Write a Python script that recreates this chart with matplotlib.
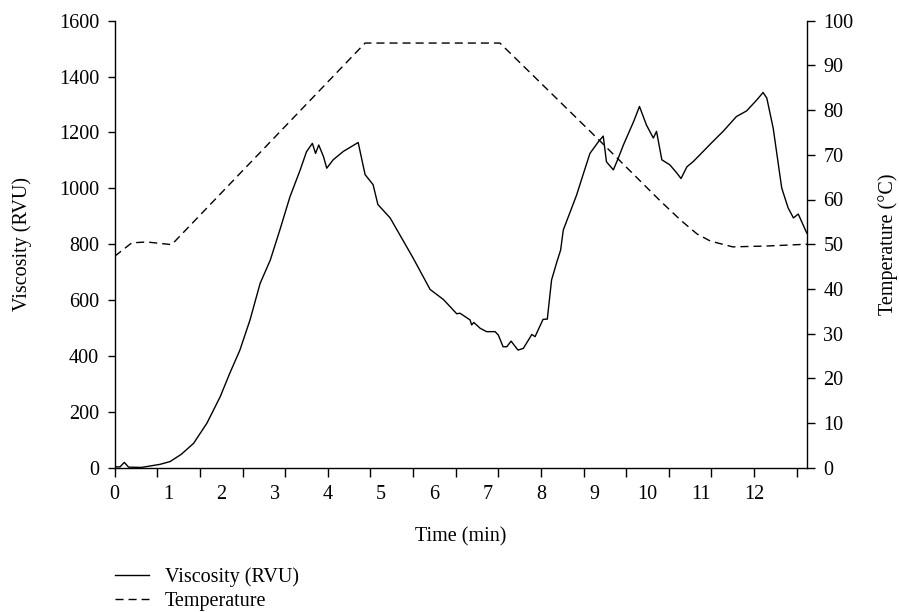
import matplotlib
matplotlib.use('Agg')
import matplotlib.pyplot as plt
import numpy as np
from matplotlib.lines import Line2D

plt.rcParams['font.family'] = ['Liberation Serif', 'DejaVu Serif']
plt.rcParams['font.size'] = 14.5

# Viscosity curve (RVU) vs time (min)
visc_time = [0.0, 0.1, 0.18, 0.26, 0.5, 0.66, 0.85, 1.04, 1.25, 1.48, 1.73, 1.98,
             2.16, 2.35, 2.54, 2.73, 2.92, 3.10, 3.29, 3.48, 3.60, 3.71, 3.77,
             3.83, 3.92, 3.98, 4.10, 4.29, 4.57, 4.70, 4.85, 4.94, 5.17, 5.60,
             5.92, 6.17, 6.42, 6.48, 6.67, 6.70, 6.74, 6.86, 6.98, 7.14, 7.20,
             7.29, 7.36, 7.44, 7.57, 7.67, 7.83, 7.89, 8.04, 8.12, 8.20, 8.30,
             8.37, 8.42, 8.55, 8.67, 8.80, 8.92, 9.08, 9.17, 9.23, 9.36, 9.45,
             9.55, 9.74, 9.85, 9.98, 10.11, 10.17, 10.27, 10.42, 10.55, 10.63,
             10.74, 10.86, 11.23, 11.42, 11.67, 11.86, 12.05, 12.17, 12.24,
             12.36, 12.52, 12.64, 12.74, 12.83, 12.99]
visc_rvu = [3, 3, 19, 2, 1, 6, 12, 22, 48, 87, 159, 254,
            338, 421, 529, 660, 743, 851, 970, 1065, 1131, 1161, 1125,
            1155, 1113, 1072, 1102, 1132, 1164, 1049, 1013, 942, 894, 751,
            638, 602, 551, 553, 529, 511, 520, 499, 487, 487, 475,
            433, 433, 453, 421, 427, 477, 469, 531, 532, 672, 737,
            779, 851, 916, 976, 1054, 1125, 1167, 1187, 1095, 1066, 1107,
            1156, 1239, 1293, 1227, 1180, 1204, 1102, 1084, 1055, 1035,
            1077, 1096, 1168, 1204, 1257, 1277, 1316, 1343, 1323,
            1215, 1001, 930, 894, 908, 840]

# Temperature profile (°C)
temp_time = [0.0, 0.32, 0.6, 1.07, 4.70, 7.23, 9.10, 10.23, 10.63, 10.93,
             11.18, 11.6, 12.25, 13.0]
temp_c = [47.3, 50.3, 50.5, 49.9, 95, 95, 73.2, 59.8, 55.3, 52.3,
          50.7, 49.4, 49.6, 50.0]

x_labels = list(range(13))

fig = plt.figure(figsize=(8.99, 6.12), dpi=100)
ax = fig.add_axes([114.7 / 899, 1 - 467.7 / 612, 692.6 / 899, 447 / 612])
ax2 = ax.twinx()

dash = (0, (5.8, 3.6))
ax.plot(visc_time, visc_rvu, color='black', lw=1.0)
ax2.plot(temp_time, temp_c, color='black', lw=1.0, linestyle=dash)

ax.set_xlim(0, 13)
ax.set_ylim(0, 1600)
ax2.set_ylim(0, 100)
ax.set_yticks(np.arange(0, 1601, 200))
ax2.set_yticks(np.arange(0, 101, 10))

# tick marks every 0.8 min, labels on whole minutes
ax.xaxis.remove_overlapping_locs = False
ax.set_xticks(np.arange(0, 13, 0.8))
ax.set_xticklabels([])
ax.set_xticks(x_labels, minor=True)
ax.set_xticklabels([str(v) for v in x_labels], minor=True)

ax.tick_params(axis='x', which='major', direction='out', length=6.5, width=1.0)
ax.tick_params(axis='x', which='minor', length=0, pad=12.5)
ax.tick_params(axis='y', direction='out', length=5.3, width=1.0, pad=6)
ax2.tick_params(axis='y', direction='out', length=6, width=1.0, pad=5.5)

for a in (ax, ax2):
    a.spines['top'].set_visible(False)
    for s in a.spines.values():
        s.set_linewidth(1.0)
ax.spines['right'].set_visible(False)
ax2.spines['left'].set_visible(False)
ax2.spines['bottom'].set_visible(False)

ax.set_xlabel('Time (min)', va='center')
ax.xaxis.set_label_coords(0.5, -(537 - 467.7) / 447)
ax.set_ylabel('Viscosity (RVU)', va='center')
ax.yaxis.set_label_coords((21.7 - 114.7) / 692.6, 0.5)
ax2.set_ylabel('Temperature (°C)', va='center')
ax2.yaxis.set_label_coords((888.3 - 114.7) / 692.6, 0.5)

handles = [Line2D([], [], color='black', lw=1.0),
           Line2D([], [], color='black', lw=1.0, linestyle=dash)]
fig.legend(handles, ['Viscosity (RVU)', 'Temperature'], loc='upper left',
           bbox_to_anchor=(114.7 / 899, 1 - 567 / 612), frameon=False,
           borderpad=0, borderaxespad=0, handlelength=1.7, handletextpad=0.8,
           labelspacing=0.25)

fig.savefig('out.png', dpi=100)
plt.close(fig)
